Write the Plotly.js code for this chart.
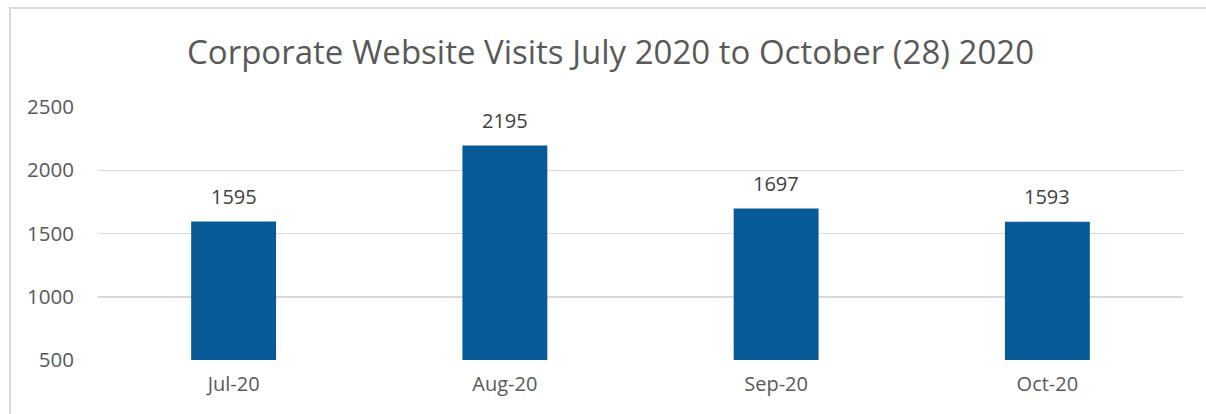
<!DOCTYPE html>
<html>
<head>
<meta charset="utf-8">
<script src="https://cdn.plot.ly/plotly-3.0.1.min.js"></script>
<style>
html,body{margin:0;padding:0;background:#fff;}
#wrap{position:relative;width:1206px;height:414px;overflow:hidden;}
#chart{width:1206px;height:414px;}
#frame{position:absolute;left:9px;top:7px;width:1300px;height:500px;border-left:2px solid #d9d9d9;border-top:2px solid #d9d9d9;pointer-events:none;}
</style>
</head>
<body>
<div id="wrap"><div id="chart"></div><div id="frame"></div></div>
<script>
const categories = ["Jul-20", "Aug-20", "Sep-20", "Oct-20"];
const visits = [1595, 2195, 1697, 1593];
const yTicks = [500, 1000, 1500, 2000, 2500];
const chartTitle = "Corporate Website Visits July 2020 to October (28) 2020";

const FONT = "Open Sans, sans-serif";
const GREY = "#595959";

const trace = {
  type: "bar",
  x: categories,
  y: visits,
  marker: {color: "#085A96"},
  hoverinfo: "x+y"
};

const annotations = categories.map((c, i) => ({
  x: c, y: visits[i], xref: "x", yref: "y",
  text: String(visits[i]), showarrow: false,
  yanchor: "middle", yshift: 25,
  font: {family: FONT, size: 20, color: "#404040"}
}));

const layout = {
  width: 1206, height: 414,
  margin: {l: 98, r: 23, t: 107, b: 54, pad: 0},
  paper_bgcolor: "#ffffff", plot_bgcolor: "#ffffff",
  title: {
    text: chartTitle,
    font: {family: FONT, size: 33, color: GREY},
    x: 0.4724, xanchor: "center", xref: "paper",
    y: 1 - 52 / 414, yref: "container", yanchor: "middle"
  },
  bargap: 0.687,
  showlegend: false,
  xaxis: {
    type: "category",
    showgrid: false, zeroline: false, showline: false,
    ticks: "", ticklabelstandoff: 10,
    tickfont: {family: FONT, size: 20, color: GREY}
  },
  yaxis: {
    range: [500, 2500],
    tickvals: yTicks,
    ticktext: yTicks.map(String),
    showgrid: true, gridcolor: "#d9d9d9", gridwidth: 1.5,
    zeroline: false, showline: false,
    ticks: "", ticklabelstandoff: 23,
    tickfont: {family: FONT, size: 20.5, color: GREY}
  },
  annotations: annotations
};

Plotly.newPlot("chart", [trace], layout, {displayModeBar: false, staticPlot: true});
</script>
</body>
</html>
